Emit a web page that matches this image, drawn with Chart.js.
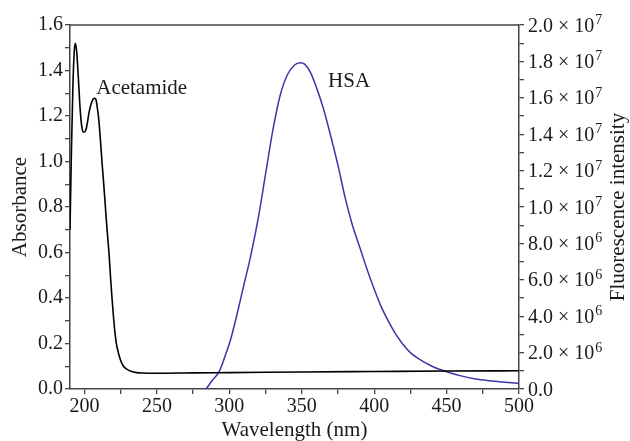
<!DOCTYPE html>
<html>
<head>
<meta charset="utf-8">
<script src="https://cdn.jsdelivr.net/npm/chart.js@4/dist/chart.umd.min.js"></script>
<style>
  html, body { margin: 0; padding: 0; background: #fff; }
  #wrap { width: 630px; height: 441px; }
</style>
</head>
<body>
<div id="wrap"><canvas id="c" width="630" height="441"></canvas></div>
<script>
// ---- data ----
const acetamideWavelength = [190, 191, 192, 193, 193.7, 194.5, 195, 196, 197, 198, 199, 200, 201, 202, 203, 204, 205, 206, 207, 208, 209, 210, 211, 212, 213, 214, 215, 216, 217, 218, 219, 220, 221, 222, 223, 224, 225, 226, 227, 228, 230, 232, 236, 240, 250, 275, 300, 350, 400, 450, 500];
const acetamideAbsorbance = [0.70, 1.05, 1.33, 1.49, 1.52, 1.49, 1.45, 1.34, 1.23, 1.16, 1.13, 1.13, 1.14, 1.17, 1.21, 1.24, 1.26, 1.275, 1.278, 1.27, 1.23, 1.175, 1.095, 1.005, 0.925, 0.84, 0.75, 0.67, 0.59, 0.49, 0.40, 0.32, 0.25, 0.20, 0.17, 0.145, 0.125, 0.11, 0.10, 0.093, 0.084, 0.078, 0.072, 0.070, 0.069, 0.071, 0.072, 0.075, 0.077, 0.079, 0.080];

const hsaWavelength = [284, 288, 293, 297, 301, 305, 310, 315, 320, 325, 330, 335, 340, 345, 349, 352, 356, 360, 365, 370, 375, 380, 385, 390, 395, 400, 405, 410, 415, 420, 425, 430, 440, 450, 460, 470, 480, 490, 500];
const hsaIntensity = [0, 0.45e6, 0.95e6, 1.8e6, 2.75e6, 4.0e6, 5.7e6, 7.4e6, 9.4e6, 11.8e6, 14.2e6, 16.1e6, 17.25e6, 17.8e6, 17.93e6, 17.85e6, 17.4e6, 16.6e6, 15.4e6, 13.9e6, 12.3e6, 10.5e6, 9.0e6, 7.8e6, 6.6e6, 5.5e6, 4.5e6, 3.7e6, 3.0e6, 2.45e6, 2.0e6, 1.7e6, 1.25e6, 0.95e6, 0.72e6, 0.55e6, 0.45e6, 0.37e6, 0.31e6];

const xTicks = [200, 225, 250, 275, 300, 325, 350, 375, 400, 425, 450, 475, 500];
const absorbanceTicks = [0, 0.1, 0.2, 0.3, 0.4, 0.5, 0.6, 0.7, 0.8, 0.9, 1.0, 1.1, 1.2, 1.3, 1.4, 1.5, 1.6];
const intensityTicks = [0, 1e6, 2e6, 3e6, 4e6, 5e6, 6e6, 7e6, 8e6, 9e6, 1e7, 1.1e7, 1.2e7, 1.3e7, 1.4e7, 1.5e7, 1.6e7, 1.7e7, 1.8e7, 1.9e7, 2e7];

const seriesNames = ['Acetamide', 'HSA'];
const labelWavelength = [208.1, 368.2];
const labelAbsorbance = [1.32, 1.351];

const xTitle = 'Wavelength (nm)';
const yTitle = 'Absorbance';
const y2Title = 'Fluorescence intensity';

// ---- styling ----
const FONT = "'Liberation Serif', 'Times New Roman', serif";
const AXIS = '#454545';
const TEXT = '#1a1a1a';

function sciParts(v) {
  if (v === 0) return ['0.0', ''];
  const e = Math.floor(Math.log10(v) + 1e-9);
  const m = v / Math.pow(10, e);
  return [m.toFixed(1) + ' × 10', String(e)];
}

const pairs = (xs, ys) => xs.map((x, i) => ({x: x, y: ys[i]}));

const frame = {
  id: 'frame',
  afterDatasetsDraw(chart) {
    const {ctx, chartArea: a, scales} = chart;
    ctx.save();
    // top border
    ctx.strokeStyle = AXIS;
    ctx.lineWidth = 1.5;
    ctx.beginPath();
    ctx.moveTo(a.left, a.top);
    ctx.lineTo(a.right, a.top);
    ctx.stroke();
    // curve labels
    ctx.fillStyle = TEXT;
    ctx.font = "21px " + FONT;
    ctx.textAlign = 'left';
    ctx.textBaseline = 'middle';
    seriesNames.forEach((t, i) => {
      ctx.fillText(t, scales.x.getPixelForValue(labelWavelength[i]), scales.y.getPixelForValue(labelAbsorbance[i]));
    });
    // right axis tick labels with superscript exponents
    const y2 = scales.y2;
    const x0 = a.right + 9;
    intensityTicks.forEach(v => {
      if (Math.round(v / 1e6) % 2 !== 0) return;
      const [base, exp] = sciParts(v);
      const py = y2.getPixelForValue(v);
      ctx.font = "20px " + FONT;
      ctx.textBaseline = 'alphabetic';
      ctx.textAlign = 'left';
      const baseline = py + 6.5;
      ctx.fillText(base, x0, baseline);
      if (exp) {
        const w = ctx.measureText(base).width;
        ctx.font = "14px " + FONT;
        ctx.fillText(exp, x0 + w + 1, baseline - 7.5);
      }
    });
    // right axis title, reading bottom to top
    ctx.font = "21px " + FONT;
    ctx.textAlign = 'center';
    ctx.textBaseline = 'middle';
    ctx.translate(618, (a.top + a.bottom) / 2);
    ctx.rotate(-Math.PI / 2);
    ctx.fillText(y2Title, 0, 0);
    ctx.restore();
  }
};

const tickFont = {family: FONT, size: 20};
const titleFont = {family: FONT, size: 21, lineHeight: 1.0};

new Chart(document.getElementById('c'), {
  type: 'line',
  data: {
    datasets: [
      {
        label: seriesNames[0],
        data: pairs(acetamideWavelength, acetamideAbsorbance),
        yAxisID: 'y',
        borderColor: '#000000',
        borderWidth: 1.6,
        pointRadius: 0,
        cubicInterpolationMode: 'monotone',
        fill: false
      },
      {
        label: seriesNames[1],
        data: pairs(hsaWavelength, hsaIntensity),
        yAxisID: 'y2',
        borderColor: '#3a36a6',
        borderWidth: 1.5,
        pointRadius: 0,
        cubicInterpolationMode: 'monotone',
        fill: false
      }
    ]
  },
  options: {
    responsive: false,
    animation: false,
    events: [],
    layout: { padding: { top: 25, left: 0, right: 0, bottom: 0 } },
    plugins: { legend: { display: false }, tooltip: { enabled: false } },
    scales: {
      x: {
        type: 'linear',
        min: 190, max: 500,
        afterBuildTicks: s => { s.ticks = xTicks.map(v => ({value: v})); },
        afterFit: s => { s.height = 52; },
        grid: { display: true, drawOnChartArea: false, drawTicks: true, tickLength: 5, color: AXIS, lineWidth: 1.3 },
        border: { display: true, color: AXIS, width: 1.5 },
        ticks: {
          autoSkip: false, maxRotation: 0, padding: 1, color: TEXT, font: tickFont,
          callback: v => (v % 50 === 0 ? String(v) : '')
        },
        title: { display: true, text: xTitle, color: TEXT, font: titleFont, padding: {top: 0, bottom: 0} }
      },
      y: {
        type: 'linear', position: 'left',
        min: 0, max: 1.6,
        afterBuildTicks: s => { s.ticks = absorbanceTicks.map(v => ({value: v})); },
        afterFit: s => { s.width = 70; },
        grid: { display: true, drawOnChartArea: false, drawTicks: true, tickLength: 5, color: AXIS, lineWidth: 1.3 },
        border: { display: true, color: AXIS, width: 1.5 },
        ticks: {
          autoSkip: false, padding: 2, color: TEXT, font: tickFont,
          callback: v => (Math.round(v * 10) % 2 === 0 ? v.toFixed(1) : '')
        },
        title: { display: true, text: yTitle, color: TEXT, font: titleFont, padding: {top: 10, bottom: 0} }
      },
      y2: {
        type: 'linear', position: 'right',
        min: 0, max: 2e7,
        afterBuildTicks: s => { s.ticks = intensityTicks.map(v => ({value: v})); },
        afterFit: s => { s.width = 111; },
        grid: { display: true, drawOnChartArea: false, drawTicks: true, tickLength: 5, color: AXIS, lineWidth: 1.3 },
        border: { display: true, color: AXIS, width: 1.5 },
        ticks: { autoSkip: false, display: true, padding: 3, font: tickFont, callback: () => '' },
        title: { display: false }
      }
    }
  },
  plugins: [frame]
});
</script>
</body>
</html>
